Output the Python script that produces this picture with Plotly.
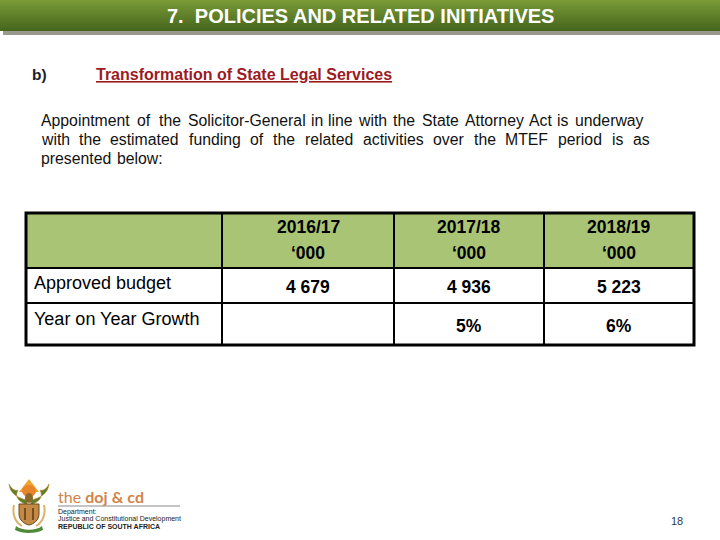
import plotly.graph_objects as go

# ---- data ----
slide_title = "7.  POLICIES AND RELATED INITIATIVES"
section_label = "b)"
section_title = "Transformation of State Legal Services"
para_line1_words = ["Appointment", "of", "the", "Solicitor-General", "in", "line", "with", "the",
                    "State", "Attorney", "Act", "is", "underway"]
para_line2_words = ["with", "the", "estimated", "funding", "of", "the", "related",
                    "activities", "over", "the", "MTEF", "period", "is", "as"]
para_line3_words = ["presented", "below:"]
years = ["2016/17", "2017/18", "2018/19"]
unit_label = "\u2018000"
row_labels = ["Approved budget", "Year on Year Growth"]
budget = ["4 679", "4 936", "5 223"]
growth = ["", "5%", "6%"]
page_number = "18"

FONT = "Liberation Sans, Arial, sans-serif"
PAD = 2.5  # annotation inner offset

shapes = []
ann = []

def rect(x0, y0, x1, y1, fill, line_color=None, lw=0, layer="below"):
    shapes.append(dict(type="rect", xref="x", yref="y", x0=x0, y0=y0, x1=x1, y1=y1,
                       fillcolor=fill, line=dict(width=lw, color=line_color or fill), layer=layer))

def line(x0, y0, x1, y1, color="black", lw=2):
    shapes.append(dict(type="line", xref="x", yref="y", x0=x0, y0=y0, x1=x1, y1=y1,
                       line=dict(color=color, width=lw), layer="above"))

def text(x, y, s, size=15, color="black", bold=False, xanchor="left", family=FONT):
    if bold:
        s = "<b>" + s + "</b>"
    if xanchor == "left":
        x = x - PAD
    ann.append(dict(x=x, y=y, xref="x", yref="y", text=s, showarrow=False,
                    xanchor=xanchor, yanchor="middle",
                    font=dict(size=size, color=color, family=family)))

# ---- header bar (vertical gradient) ----
rect(3, 31, 720, 35, "#9a9a8c")
top = (122, 155, 54)
bot = (70, 102, 30)
H = 31
for i in range(H):
    t = i / (H - 1)
    c = tuple(int(top[k] + (bot[k] - top[k]) * t) for k in range(3))
    rect(0, i, 720, i + 1.05, "rgb(%d,%d,%d)" % c)
text(360.5, 16, slide_title, size=20, color="white", bold=True, xanchor="center")

# ---- section heading ----
text(32, 74, section_label, size=15.5, color="#1c1c2a", bold=True)
text(96, 74, "<u>" + section_title + "</u>", size=16, color="#9b1b1f", bold=True)

# ---- paragraph (justified: word-by-word placement) ----
PSIZE = 15.8
w1_x = [41, 137, 159, 188, 311, 328, 358, 393, 422, 465, 529, 557, 575]
for w, x in zip(para_line1_words, w1_x):
    text(x, 120, w, size=PSIZE, color="#111111")
w2_x = [41, 79, 110.5, 189, 250, 273, 305, 363, 433.5, 474, 505.5, 558.5, 612, 633]
for w, x in zip(para_line2_words, w2_x):
    text(x, 139, w, size=PSIZE, color="#111111")
w3_x = [41, 117]
for w, x in zip(para_line3_words, w3_x):
    text(x, 158, w, size=PSIZE, color="#111111")

# ---- table ----
col_x = [26, 222, 394, 544, 694]
row_y = [213, 268, 303, 345]
rect(col_x[0], row_y[0], col_x[-1], row_y[1], "#a9c475")
rect(col_x[0], row_y[1], col_x[-1], row_y[-1], "white")
for x in col_x[1:-1]:
    line(x, row_y[0], x, row_y[-1], lw=2)
for y in row_y[1:-1]:
    line(col_x[0], y, col_x[-1], y, lw=2)
shapes.append(dict(type="rect", xref="x", yref="y", x0=col_x[0], y0=row_y[0],
                   x1=col_x[-1], y1=row_y[-1], line=dict(color="black", width=3),
                   fillcolor="rgba(0,0,0,0)", layer="above"))

for i, yr in enumerate(years):
    cx = (col_x[i + 1] + col_x[i + 2]) / 2
    text(cx, 227, yr, size=17.5, bold=True, xanchor="center")
    text(cx, 253, unit_label, size=17.5, bold=True, xanchor="center")
    text(cx, 287, budget[i], size=17.5, bold=True, xanchor="center")
    if growth[i]:
        text(cx, 326, growth[i], size=17.5, bold=True, xanchor="center")
text(34, 283, row_labels[0], size=18)
text(34, 319, row_labels[1], size=18)

# ---- logo (approximate emblem) ----
shapes.append(dict(type="path", xref="x", yref="y",
                   path="M 19 492 L 29 479 L 39 492 Z", fillcolor="#f0a330",
                   line=dict(width=0), layer="above"))
shapes.append(dict(type="circle", xref="x", yref="y", x0=22, y0=485, x1=36, y1=497,
                   fillcolor="#e8842a", line=dict(width=0), layer="above"))
shapes.append(dict(type="path", xref="x", yref="y",
                   path="M 27 500 C 18 498 10 494 9 484 C 12 490 16 491 18 490 C 14 498 20 502 27 505 Z",
                   fillcolor="#5f7d2a", line=dict(width=0.6, color="#c08a2e"), layer="above"))
shapes.append(dict(type="path", xref="x", yref="y",
                   path="M 31 500 C 40 498 48 494 49 484 C 46 490 42 491 40 490 C 44 498 38 502 31 505 Z",
                   fillcolor="#5f7d2a", line=dict(width=0.6, color="#c08a2e"), layer="above"))
shapes.append(dict(type="circle", xref="x", yref="y", x0=25, y0=493, x1=33, y1=503,
                   fillcolor="#8a6a2a", line=dict(width=0), layer="above"))
shapes.append(dict(type="path", xref="x", yref="y",
                   path="M 19 504 L 39 504 L 39 514 C 39 520 34 524 29 525 C 24 524 19 520 19 514 Z",
                   fillcolor="#c48a45", line=dict(width=1, color="#6b4a1e"), layer="above"))
shapes.append(dict(type="path", xref="x", yref="y",
                   path="M 25 508 L 25 520 M 33 508 L 33 520",
                   line=dict(width=1.5, color="#5a3a18"), layer="above"))
shapes.append(dict(type="path", xref="x", yref="y",
                   path="M 14 505 C 12 514 15 522 22 526", line=dict(width=2, color="#d9b36a"), layer="above"))
shapes.append(dict(type="path", xref="x", yref="y",
                   path="M 44 505 C 46 514 43 522 36 526", line=dict(width=2, color="#d9b36a"), layer="above"))
shapes.append(dict(type="path", xref="x", yref="y",
                   path="M 16 526 C 22 531 36 531 42 526 L 43 530 C 36 534 22 534 15 530 Z",
                   fillcolor="#4f8a3a", line=dict(width=0), layer="above"))

ann.append(dict(x=58 - PAD, y=496, xref="x", yref="y", showarrow=False, xanchor="left", yanchor="middle",
                text="the <b>doj</b> <b>&amp;</b> <b>cd</b>",
                font=dict(size=16, color="#d0844a", family="Lato, Liberation Sans, sans-serif")))
line(58, 506, 180, 506, color="#8a8a8a", lw=1)
text(58, 512, "Department:", size=7, color="#222222")
text(58, 519, "Justice and Constitutional Development", size=7, color="#222222")
text(58, 526, "<b>REPUBLIC OF SOUTH AFRICA</b>", size=7, color="#222222")

# ---- page number ----
text(677, 521, page_number, size=11, color="#2a3a4a", xanchor="center")

fig = go.Figure()
fig.update_layout(
    width=720, height=540,
    margin=dict(l=0, r=0, t=0, b=0),
    paper_bgcolor="white", plot_bgcolor="white",
    xaxis=dict(range=[0, 720], visible=False, fixedrange=True),
    yaxis=dict(range=[540, 0], visible=False, fixedrange=True),
    shapes=shapes, annotations=ann, showlegend=False,
)
fig.write_html("out.html", config={"displayModeBar": False, "staticPlot": True},
               post_script="document.body.style.margin='0';")
